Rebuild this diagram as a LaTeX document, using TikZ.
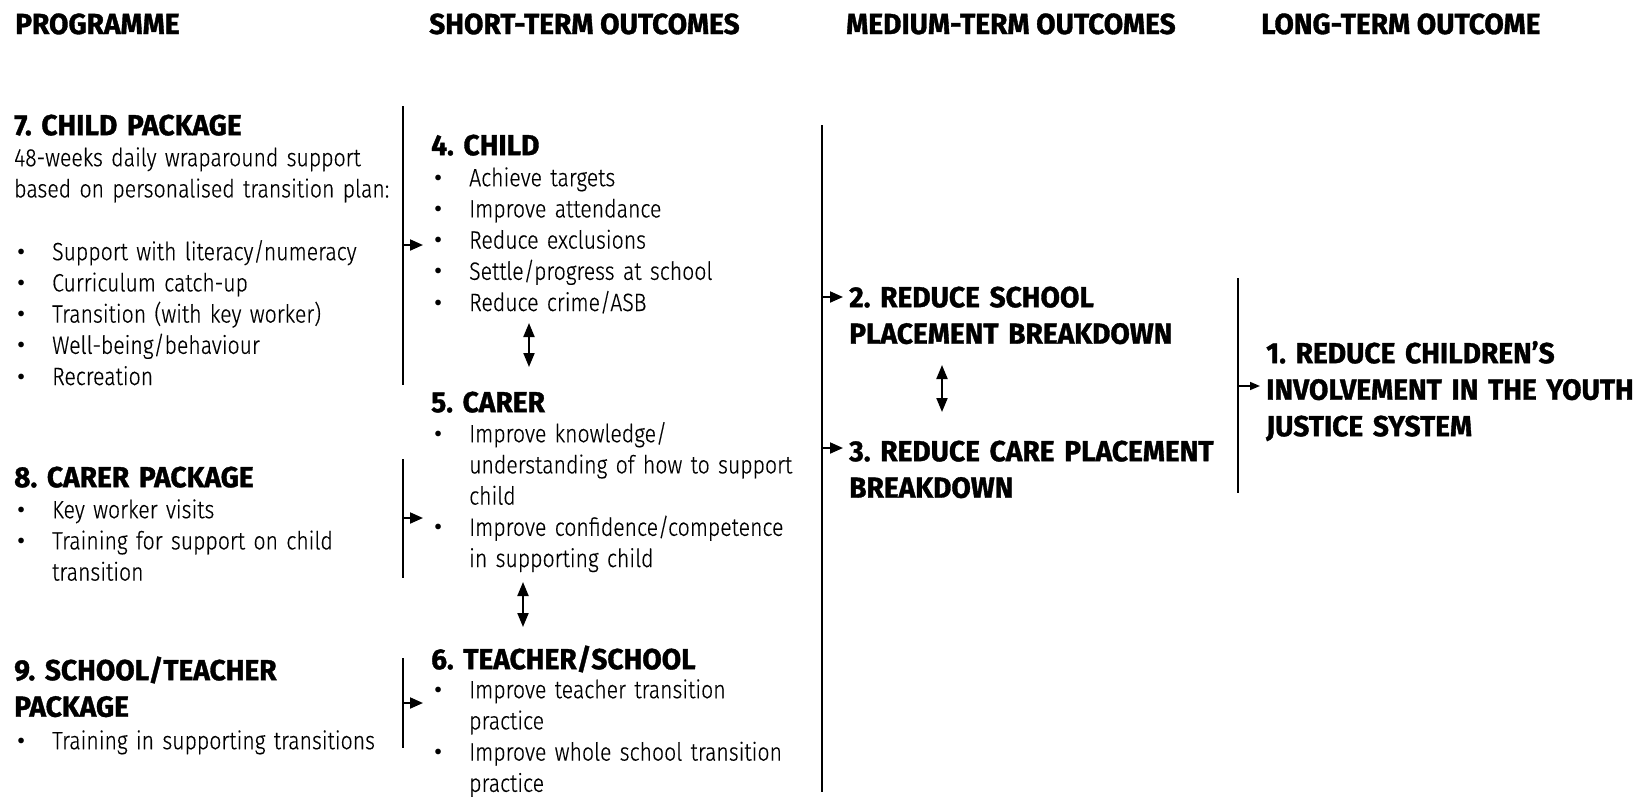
\documentclass[tikz,border=0pt]{standalone}
\usepackage{fontspec}
\setmainfont{Fira Sans Light}[FakeStretch=0.85,FakeBold=0.4]
\newfontfamily\hfont{Fira Sans}[FakeStretch=0.97,FakeBold=1.2]
\newfontfamily\dotfont{Fira Sans}
\usetikzlibrary{arrows.meta}
\frenchspacing
\newcommand{\bul}[1]{\noindent\llap{\makebox[38pt][l]{\strut\hspace{3pt}{\dotfont •}}}#1\par}
\begin{document}
\begin{tikzpicture}[x=1pt,y=-1pt,
  colhead/.style={anchor=base west,inner sep=0,font=\hfont\bfseries\fontsize{29}{36.5}\selectfont},
  headtxt/.style={anchor=north west,inner sep=0,align=left,text width=#1,font=\hfont\bfseries\fontsize{29}{36.5}\selectfont},
  bodytxt/.style={anchor=north west,inner sep=0,align=left,text width=#1,font=\fontsize{25}{31.2}\selectfont},
  vline/.style={line width=2pt},
  arr/.style={line width=2pt,-{Triangle[length=13pt,width=11pt]}},
  sarr/.style={line width=1.6pt,-{Triangle[length=10pt,width=8pt]}},
  darr/.style={line width=2pt,{Triangle[length=14pt,width=11pt]}-{Triangle[length=14pt,width=11pt]}},
]
\useasboundingbox[fill=white] (0,0) rectangle (1634,796);

% column headers
\node[colhead] (c1) at (15,34) {PROGRAMME};
\node[colhead] (c2) at (429,34) {SHORT-TERM OUTCOMES};
\node[colhead] (c3) at (846,34) {MEDIUM-TERM OUTCOMES};
\node[colhead] (c4) at (1261,34) {LONG-TERM OUTCOME};

% programme column
\node[headtxt=500] (h7) at (14,135-25.55) {\strut 7. CHILD PACKAGE};
\node[bodytxt=500] (t7) at (14,166-21.84) {\strut 48-weeks daily wraparound support\\based on personalised transition plan:};
\node[bodytxt=500] (l7) at (14,260-21.84) {\leftskip=38pt\relax\bul{Support with literacy/numeracy}\bul{Curriculum catch-up}\bul{Transition (with key worker)}\bul{Well-being/behaviour}\bul{Recreation}};

\node[headtxt=500] (h8) at (14,487-25.55) {\strut 8. CARER PACKAGE};
\node[bodytxt=500] (l8) at (14,518-21.84) {\leftskip=38pt\relax\bul{Key worker visits}\bul{Training for support on child\\transition}};

\node[headtxt=500] (h9) at (14,680-25.55) {\strut 9. SCHOOL/TEACHER\\PACKAGE};
\node[bodytxt=500] (l9) at (14,749-21.84) {\leftskip=38pt\relax\bul{Training in supporting transitions}};

% short-term column
\node[headtxt=500] (h4) at (431,155-25.55) {\strut 4. CHILD};
\node[bodytxt=500] (l4) at (431,186-21.84) {\leftskip=38pt\relax\bul{Achieve targets}\bul{Improve attendance}\bul{Reduce exclusions}\bul{Settle/progress at school}\bul{Reduce crime/ASB}};

\node[headtxt=500] (h5) at (431,412-25.55) {\strut 5. CARER};
\node[bodytxt=500] (l5) at (431,442-21.84) {\leftskip=38pt\relax\bul{Improve knowledge/\\understanding of how to support\\child}\bul{Improve confidence/competence\\in supporting child}};

\node[headtxt=500] (h6) at (431,669-25.55) {\strut 6. TEACHER/SCHOOL};
\node[bodytxt=500] (l6) at (431,698-21.84) {\leftskip=38pt\relax\bul{Improve teacher transition\\practice}\bul{Improve whole school transition\\practice}};

% medium-term column
\node[headtxt=500] (h2) at (849,307-25.55) {\strut 2. REDUCE SCHOOL\\PLACEMENT BREAKDOWN};
\node[headtxt=500] (h3) at (849,461-25.55) {\strut 3. REDUCE CARE PLACEMENT\\BREAKDOWN};

% long-term column
\node[headtxt=500] (h1) at (1266,363-25.55) {\strut 1. REDUCE CHILDREN’S\\INVOLVEMENT IN THE YOUTH\\JUSTICE SYSTEM};

% brackets and arrows
\coordinate (v1t) at (403,106); \coordinate (v1b) at (403,385);
\coordinate (v1m) at (403,245); \coordinate (a1) at (423,245);
\draw[vline] (v1t) -- (v1b);
\draw[arr] (v1m) -- (a1);

\coordinate (v2t) at (403,459); \coordinate (v2b) at (403,578);
\coordinate (v2m) at (403,518); \coordinate (a2) at (423,518);
\draw[vline] (v2t) -- (v2b);
\draw[arr] (v2m) -- (a2);

\coordinate (v3t) at (403,658); \coordinate (v3b) at (403,748);
\coordinate (v3m) at (403,703); \coordinate (a3) at (423,703);
\draw[vline] (v3t) -- (v3b);
\draw[arr] (v3m) -- (a3);

\coordinate (v4t) at (822,125); \coordinate (v4b) at (822,792);
\coordinate (v4m1) at (822,297); \coordinate (a41) at (843,297);
\coordinate (v4m2) at (822,448); \coordinate (a42) at (843,448);
\draw[vline] (v4t) -- (v4b);
\draw[arr] (v4m1) -- (a41);
\draw[arr] (v4m2) -- (a42);

\coordinate (v5t) at (1238,278); \coordinate (v5b) at (1238,493);
\coordinate (v5m) at (1238,386); \coordinate (a5) at (1260,386);
\draw[vline] (v5t) -- (v5b);
\draw[sarr] (v5m) -- (a5);

% two-way arrows
\coordinate (d1a) at (529,323); \coordinate (d1b) at (529,367);
\draw[darr] (d1a) -- (d1b);
\coordinate (d2a) at (523,582); \coordinate (d2b) at (523,627);
\draw[darr] (d2a) -- (d2b);
\coordinate (d3a) at (942,365); \coordinate (d3b) at (942,412);
\draw[darr] (d3a) -- (d3b);
\end{tikzpicture}
\end{document}
